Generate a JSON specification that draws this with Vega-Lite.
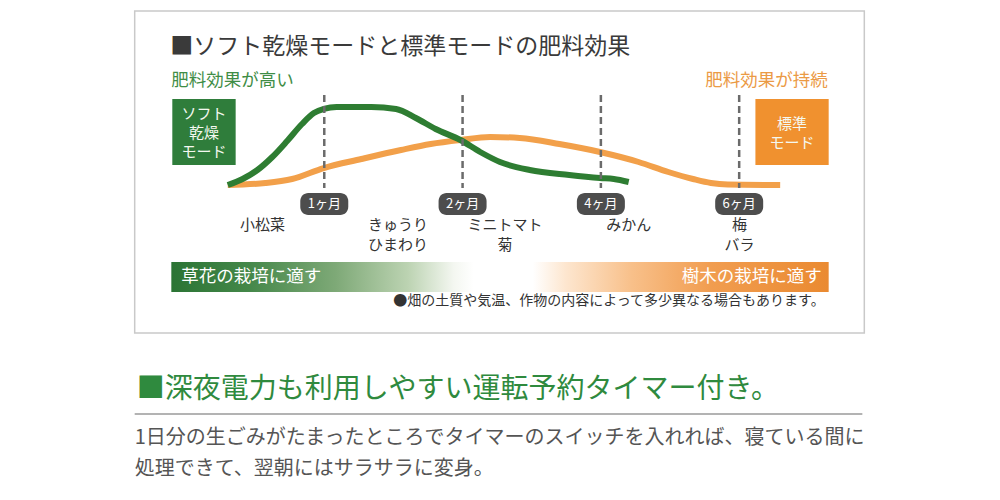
{
  "$schema": "https://vega.github.io/schema/vega-lite/v6.json",
  "width": 1000,
  "height": 500,
  "autosize": {"type": "fit", "contains": "padding"},
  "padding": 0,
  "background": "white",
  "config": {"view": {"stroke": null}, "font": "Noto Sans CJK JP", "text": {"font": "Noto Sans CJK JP"}},
  "encoding": {
    "x": {"field": "u", "type": "quantitative", "scale": {"domain": [-1.3085, 5.8497], "nice": false, "zero": false}, "axis": null},
    "y": {"field": "v", "type": "quantitative", "scale": {"domain": [-403.85, 237.18], "nice": false, "zero": false}, "axis": null}
  },
  "layer": [
    {
      "data": {"values": [{"u": -0.3708, "u2": 4.9048, "v": 223.08, "v2": -189.74}]},
      "mark": {"type": "rect", "fill": "white", "stroke": "#c9c9c9", "strokeWidth": 1.5},
      "encoding": {"x2": {"field": "u2"}, "y2": {"field": "v2"}}
    },
    {
      "data": {"values": [{"u": -0.1059, "u2": 4.6471, "v": -98.72, "v2": -137.18}]},
      "mark": {"type": "rect", "fill": {"gradient": "linear", "x1": 0, "y1": 0, "x2": 1, "y2": 0, "stops": [
        {"offset": 0, "color": "#2b7434"},
        {"offset": 0.12, "color": "#45884a"},
        {"offset": 0.25, "color": "#7ea977"},
        {"offset": 0.36, "color": "#bcd3b2"},
        {"offset": 0.43, "color": "#f4f7f1"},
        {"offset": 0.46, "color": "#ffffff"},
        {"offset": 0.55, "color": "#ffffff"},
        {"offset": 0.6, "color": "#fde6cf"},
        {"offset": 0.7, "color": "#f8c08a"},
        {"offset": 0.82, "color": "#f19d50"},
        {"offset": 1, "color": "#ea8a31"}
      ]}},
      "encoding": {"x2": {"field": "u2"}, "y2": {"field": "v2"}}
    },
    {
      "data": {"values": [
        {"u": -0.0988, "u2": 0.3593, "v": 110.26, "v2": 25.64, "mode": "ソフト乾燥モード"},
        {"u": 4.1174, "u2": 4.6471, "v": 110.26, "v2": 25.64, "mode": "標準モード"}
      ]},
      "mark": {"type": "rect"},
      "encoding": {
        "x2": {"field": "u2"},
        "y2": {"field": "v2"},
        "fill": {"field": "mode", "type": "nominal", "scale": {"domain": ["ソフト乾燥モード", "標準モード"], "range": ["#2f7d3b", "#f0912f"]}, "legend": null}
      }
    },
    {
      "data": {"values": [
        {"mode": "標準モード", "u": 0.3021, "v": 0},
        {"mode": "標準モード", "u": 0.5741, "v": 2.56},
        {"mode": "標準モード", "u": 0.7674, "v": 7.69},
        {"mode": "標準モード", "u": 0.9964, "v": 21.79},
        {"mode": "標準モード", "u": 1.2684, "v": 33.33},
        {"mode": "標準モード", "u": 1.5548, "v": 44.87},
        {"mode": "標準モード", "u": 1.7695, "v": 52.56},
        {"mode": "標準モード", "u": 1.9843, "v": 57.69},
        {"mode": "標準モード", "u": 2.199, "v": 61.54},
        {"mode": "標準モード", "u": 2.4137, "v": 60.26},
        {"mode": "標準モード", "u": 2.7001, "v": 52.56},
        {"mode": "標準モード", "u": 2.9936, "v": 42.31},
        {"mode": "標準モード", "u": 3.2727, "v": 29.49},
        {"mode": "標準モード", "u": 3.4875, "v": 16.67},
        {"mode": "標準モード", "u": 3.6664, "v": 7.69},
        {"mode": "標準モード", "u": 3.7953, "v": 2.56},
        {"mode": "標準モード", "u": 3.9172, "v": 0.64},
        {"mode": "標準モード", "u": 4.2964, "v": 0},
        {"mode": "ソフト乾燥モード", "u": 0.3021, "v": 0},
        {"mode": "ソフト乾燥モード", "u": 0.4095, "v": 7.69},
        {"mode": "ソフト乾燥モード", "u": 0.5168, "v": 19.23},
        {"mode": "ソフト乾燥モード", "u": 0.6242, "v": 35.9},
        {"mode": "ソフト乾燥モード", "u": 0.7316, "v": 56.41},
        {"mode": "ソフト乾燥モード", "u": 0.8389, "v": 78.21},
        {"mode": "ソフト乾燥モード", "u": 0.9248, "v": 92.31},
        {"mode": "ソフト乾燥モード", "u": 0.9964, "v": 97.44},
        {"mode": "ソフト乾燥モード", "u": 1.0895, "v": 100},
        {"mode": "ソフト乾燥モード", "u": 1.34, "v": 100},
        {"mode": "ソフト乾燥モード", "u": 1.519, "v": 97.44},
        {"mode": "ソフト乾燥モード", "u": 1.6622, "v": 85.9},
        {"mode": "ソフト乾燥モード", "u": 1.8053, "v": 71.79},
        {"mode": "ソフト乾燥モード", "u": 1.9843, "v": 57.69},
        {"mode": "ソフト乾燥モード", "u": 2.1274, "v": 42.31},
        {"mode": "ソフト乾燥モード", "u": 2.2706, "v": 29.49},
        {"mode": "ソフト乾燥モード", "u": 2.4853, "v": 19.23},
        {"mode": "ソフト乾燥モード", "u": 2.7717, "v": 12.82},
        {"mode": "ソフト乾燥モード", "u": 2.9936, "v": 8.97},
        {"mode": "ソフト乾燥モード", "u": 3.0938, "v": 7.69},
        {"mode": "ソフト乾燥モード", "u": 3.2012, "v": 3.85}
      ]},
      "mark": {"type": "line", "strokeWidth": 6, "interpolate": "monotone", "strokeCap": "butt"},
      "encoding": {
        "color": {"field": "mode", "type": "nominal", "scale": {"domain": ["ソフト乾燥モード", "標準モード"], "range": ["#2e7d32", "#f2a04a"]}, "legend": null},
        "order": {"field": "u", "type": "quantitative"}
      }
    },
    {
      "data": {"values": [
        {"u": 1, "v": 115.38, "v2": -3.85},
        {"u": 2, "v": 115.38, "v2": -3.85},
        {"u": 3, "v": 115.38, "v2": -3.85},
        {"u": 4, "v": 115.38, "v2": -3.85}
      ]},
      "mark": {"type": "rule", "color": "#6b6b6b", "strokeWidth": 2.5, "strokeDash": [7, 4]},
      "encoding": {"y2": {"field": "v2"}}
    },
    {
      "data": {"values": [
        {"u": 1, "v": -10.26, "v2": -38.46, "label": "1ヶ月"},
        {"u": 2, "v": -10.26, "v2": -38.46, "label": "2ヶ月"},
        {"u": 3, "v": -10.26, "v2": -38.46, "label": "4ヶ月"},
        {"u": 4, "v": -10.26, "v2": -38.46, "label": "6ヶ月"}
      ]},
      "mark": {"type": "bar", "orient": "vertical", "width": 48, "cornerRadius": 8, "fill": "#4d4d4d"},
      "encoding": {"y2": {"field": "v2"}}
    },
    {
      "data": {"values": [
        {"u": 1, "v": -24.36, "label": "1ヶ月"},
        {"u": 2, "v": -24.36, "label": "2ヶ月"},
        {"u": 3, "v": -24.36, "label": "4ヶ月"},
        {"u": 4, "v": -24.36, "label": "6ヶ月"}
      ]},
      "mark": {"type": "text", "fontSize": 13, "color": "white", "align": "center", "baseline": "middle"},
      "encoding": {"text": {"field": "label"}}
    },
    {
      "data": {"values": [
        {"u": 0.5526, "v": -51.28, "t": "小松菜"},
        {"u": 1.5333, "v": -51.28, "t": "きゅうり"},
        {"u": 1.5333, "v": -76.92, "t": "ひまわり"},
        {"u": 2.3064, "v": -51.28, "t": "ミニトマト"},
        {"u": 2.3064, "v": -76.92, "t": "菊"},
        {"u": 3.2012, "v": -51.28, "t": "みかん"},
        {"u": 4.0029, "v": -51.28, "t": "梅"},
        {"u": 4.0029, "v": -76.92, "t": "バラ"}
      ]},
      "mark": {"type": "text", "fontSize": 15, "color": "#333333", "align": "center", "baseline": "middle"},
      "encoding": {"text": {"field": "t"}}
    },
    {
      "data": {"values": [
        {"u": 0.1303, "v": 91.03, "t": "ソフト"},
        {"u": 0.1303, "v": 66.67, "t": "乾燥"},
        {"u": 0.1303, "v": 42.31, "t": "モード"},
        {"u": 4.3822, "v": 78.21, "t": "標準"},
        {"u": 4.3822, "v": 53.85, "t": "モード"}
      ]},
      "mark": {"type": "text", "fontSize": 15, "color": "#f4f8f0", "align": "center", "baseline": "middle"},
      "encoding": {"text": {"field": "t"}}
    },
    {
      "data": {"values": [{"u": -0.1131, "v": 176.92, "t": "■ソフト乾燥モードと標準モードの肥料効果"}]},
      "mark": {"type": "text", "fontSize": 23, "color": "#3a3a3a", "align": "left", "baseline": "middle"},
      "encoding": {"text": {"field": "t"}}
    },
    {
      "data": {"values": [{"u": -0.1059, "v": 133.33, "t": "肥料効果が高い"}]},
      "mark": {"type": "text", "fontSize": 17.5, "color": "#3f8d46", "align": "left", "baseline": "middle"},
      "encoding": {"text": {"field": "t"}}
    },
    {
      "data": {"values": [{"u": 4.6399, "v": 133.33, "t": "肥料効果が持続"}]},
      "mark": {"type": "text", "fontSize": 17.5, "color": "#eb9a45", "align": "right", "baseline": "middle"},
      "encoding": {"text": {"field": "t"}}
    },
    {
      "data": {"values": [{"u": -0.0344, "v": -117.95, "t": "草花の栽培に適す"}]},
      "mark": {"type": "text", "fontSize": 17.5, "color": "white", "align": "left", "baseline": "middle"},
      "encoding": {"text": {"field": "t"}}
    },
    {
      "data": {"values": [{"u": 4.597, "v": -117.95, "t": "樹木の栽培に適す"}]},
      "mark": {"type": "text", "fontSize": 17.5, "color": "white", "align": "right", "baseline": "middle"},
      "encoding": {"text": {"field": "t"}}
    },
    {
      "data": {"values": [{"u": 4.6185, "v": -148.72, "t": "●畑の土質や気温、作物の内容によって多少異なる場合もあります。"}]},
      "mark": {"type": "text", "fontSize": 14, "color": "#333333", "align": "right", "baseline": "middle"},
      "encoding": {"text": {"field": "t"}}
    },
    {
      "data": {"values": [{"u": -0.3565, "v": -262.82, "t": "■深夜電力も利用しやすい運転予約タイマー付き。"}]},
      "mark": {"type": "text", "fontSize": 28, "color": "#2f8a3e", "align": "left", "baseline": "middle"},
      "encoding": {"text": {"field": "t"}}
    },
    {
      "data": {"values": [{"u": -0.3708, "u2": 4.8905, "v": -293.59}]},
      "mark": {"type": "rule", "color": "#9a9a9a", "strokeWidth": 1.5},
      "encoding": {"x2": {"field": "u2"}}
    },
    {
      "data": {"values": [
        {"u": -0.3708, "v": -324.36, "t": "1日分の生ごみがたまったところでタイマーのスイッチを入れれば、寝ている間に"},
        {"u": -0.3708, "v": -364.1, "t": "処理できて、翌朝にはサラサラに変身。"}
      ]},
      "mark": {"type": "text", "fontSize": 20, "color": "#555555", "align": "left", "baseline": "middle"},
      "encoding": {"text": {"field": "t"}}
    }
  ]
}
